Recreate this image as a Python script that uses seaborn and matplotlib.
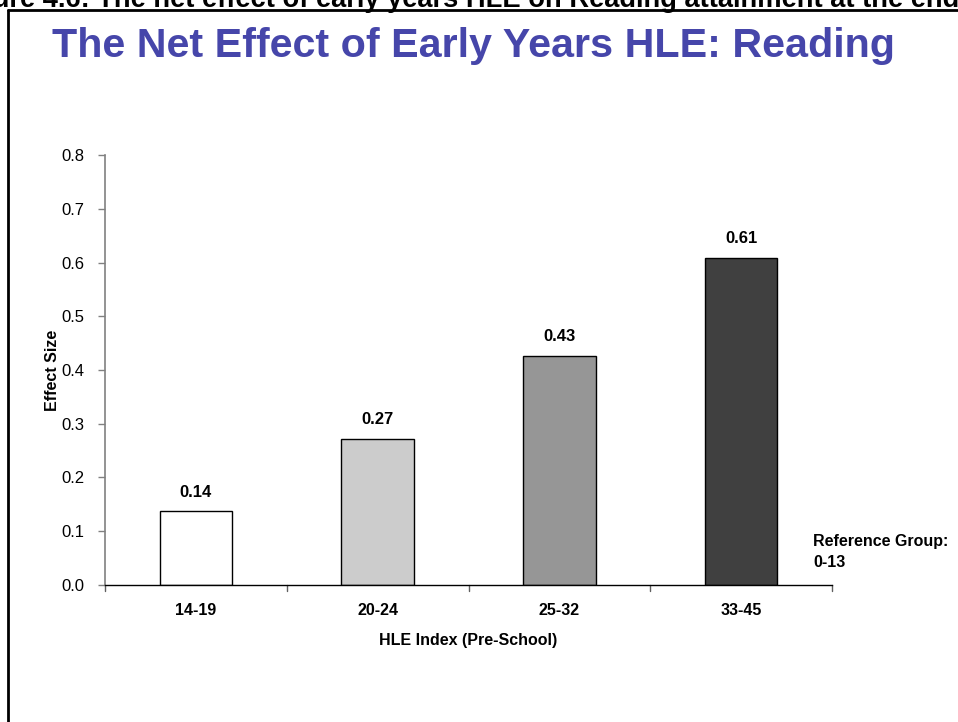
import matplotlib
matplotlib.use("Agg")
import matplotlib.pyplot as plt
import seaborn as sns
import pandas as pd
from matplotlib.lines import Line2D

categories = ["14-19", "20-24", "25-32", "33-45"]
values = [0.137, 0.272, 0.426, 0.608]
labels = ["0.14", "0.27", "0.43", "0.61"]
colors = ["#FFFFFF", "#CCCCCC", "#969696", "#404040"]
yticks = [0.0, 0.1, 0.2, 0.3, 0.4, 0.5, 0.6, 0.7, 0.8]

sns.set_theme(style="white")
plt.rcParams['font.family'] = ['Liberation Sans', 'DejaVu Sans']
plt.rcParams['text.color'] = 'black'
plt.rcParams['axes.labelcolor'] = 'black'
plt.rcParams['xtick.labelcolor'] = 'black'
plt.rcParams['ytick.labelcolor'] = 'black'

df = pd.DataFrame({"cat": categories, "val": values})

fig = plt.figure(figsize=(9.58, 7.22), dpi=100)
ax = fig.add_axes([0.1096, 0.1898, 0.7589, 0.5955])

sns.barplot(data=df, x="cat", y="val", hue="cat", palette=colors, legend=False,
            width=0.4, edgecolor="black", linewidth=1.0, ax=ax, saturation=1)

for i, (v, lab) in enumerate(zip(values, labels)):
    ax.text(i, v + 0.022, lab, ha="center", va="bottom", fontsize=12, fontweight="bold",
            color="black")

ax.set_xlim(-0.5, 3.5)
ax.set_ylim(0, 0.8)
ax.set_yticks(yticks)
ax.set_yticklabels([f"{t:.1f}" for t in yticks], fontsize=12)
ax.set_xticks(range(len(categories)))
ax.set_xticklabels(categories, fontsize=11.5, fontweight="bold")
ax.tick_params(axis="x", length=0, pad=13, labelcolor="black")
ax.tick_params(axis="y", length=5, width=1, color="#808080", direction="out", left=True, pad=10,
               labelcolor="black")
# category boundary ticks
for b in [-0.5, 0.5, 1.5, 2.5, 3.5]:
    ax.add_line(Line2D([b, b], [0, -0.012], transform=ax.transData, color="#606060",
                       lw=1, clip_on=False))

for s in ["top", "right"]:
    ax.spines[s].set_visible(False)
ax.spines["left"].set_color("#808080")
ax.spines["left"].set_linewidth(1.2)
ax.spines["bottom"].set_color("black")
ax.spines["bottom"].set_linewidth(1.0)

ax.set_xlabel("HLE Index (Pre-School)", fontsize=11.5, fontweight="bold", labelpad=11)
ax.set_ylabel("Effect Size", fontsize=11.5, fontweight="bold", labelpad=0.5)

fig.text(813 / 958, 1 - 552 / 722, "Reference Group:\n0-13", ha="left", va="center",
         fontsize=11.5, fontweight="bold", linespacing=1.5)

fig.text(52 / 958, 1 - 57 / 722, "The Net Effect of Early Years HLE: Reading",
         ha="left", va="baseline", fontsize=29.7, fontweight="bold", color="#4646AA")

fig.text(-48 / 958, 1 - 7 / 722,
         "Figure 4.6: The net effect of early years HLE on Reading attainment at the end of Year 1",
         ha="left", va="baseline", fontsize=19.6, fontweight="bold", color="black")

# slide frame
fig.add_artist(Line2D([8 / 958, 8 / 958], [0, 1 - 10 / 722], transform=fig.transFigure,
                      color="black", lw=2))
fig.add_artist(Line2D([8 / 958, 1.0], [1 - 10 / 722, 1 - 10 / 722], transform=fig.transFigure,
                      color="black", lw=2))

fig.savefig("out.png", dpi=100)
